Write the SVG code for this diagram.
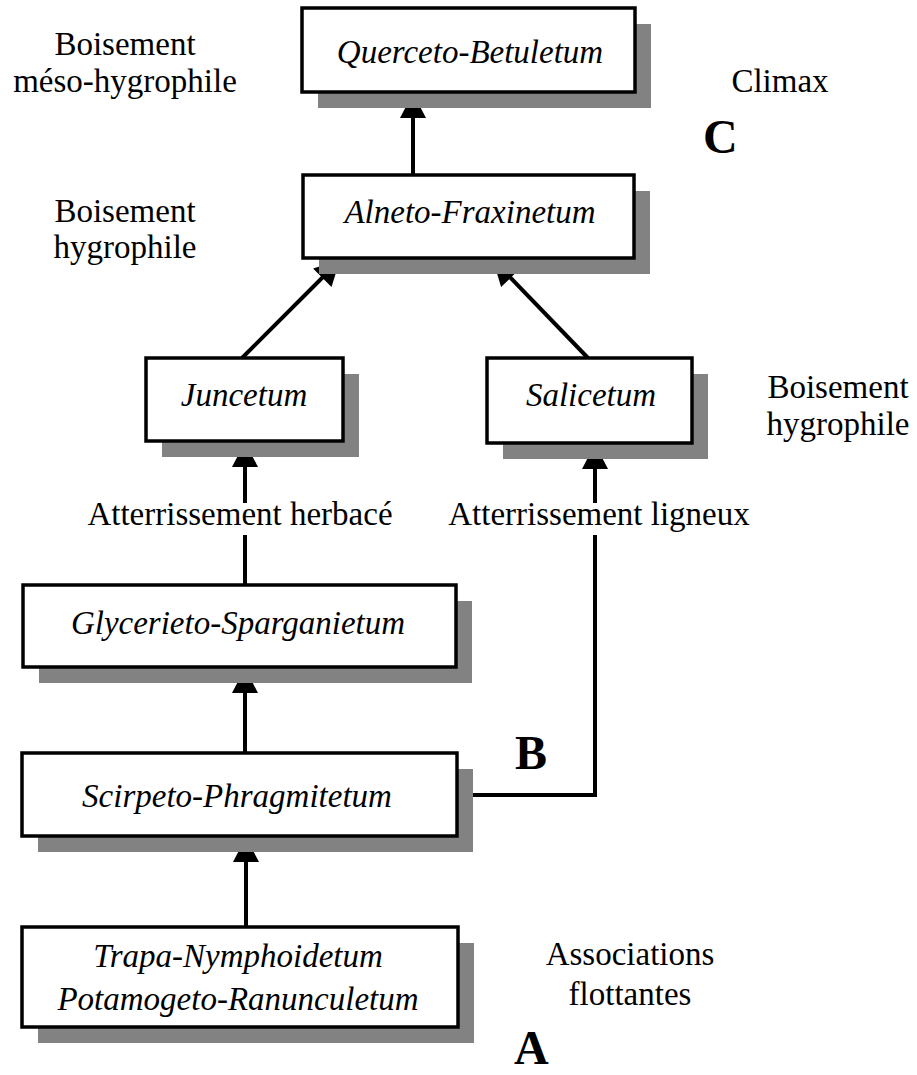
<svg xmlns="http://www.w3.org/2000/svg" width="917" height="1075" viewBox="0 0 917 1075">
<style>
.bx{fill:#fff;stroke:#000;stroke-width:3.5}
.sh{fill:#828282}
.it{font-family:"Liberation Serif",serif;font-style:italic;font-size:33px;text-anchor:middle;fill:#000}
.lb{font-family:"Liberation Serif",serif;font-size:33px;text-anchor:middle;fill:#000}
.big{font-family:"Liberation Serif",serif;font-weight:bold;font-size:48px;fill:#000}
.ln{fill:none;stroke:#000;stroke-width:4}
.hd{fill:#000;stroke:none}
</style>
<rect width="917" height="1075" fill="#fff"/>
<g id="labels">
<text class="lb" x="125" y="55">Boisement</text>
<text class="lb" x="125" y="92">méso-hygrophile</text>
<text class="lb" x="125" y="222">Boisement</text>
<text class="lb" x="125" y="258">hygrophile</text>
<text class="lb" x="780" y="92">Climax</text>
<text class="big" x="703" y="153">C</text>
<text class="lb" x="838" y="398">Boisement</text>
<text class="lb" x="838" y="435">hygrophile</text>
<text class="big" x="515" y="769">B</text>
<text class="lb" x="630" y="965">Associations</text>
<text class="lb" x="630" y="1005">flottantes</text>
<text class="big" x="514" y="1064">A</text>
</g>
<g id="connectors">
<line class="ln" x1="246" y1="927" x2="246" y2="855"/>
<polygon class="hd" points="246,837 259,862 233,862"/>
<line class="ln" x1="245" y1="753" x2="245" y2="686"/>
<polygon class="hd" points="245,668 258,693 232,693"/>
<line class="ln" x1="245" y1="585" x2="245" y2="535"/>
<line class="ln" x1="245" y1="503" x2="245" y2="460"/>
<polygon class="hd" points="245,442 258,467 232,467"/>
<polyline class="ln" points="457,795 595,795 595,535"/>
<line class="ln" x1="595" y1="503" x2="595" y2="462"/>
<polygon class="hd" points="595,444 608,469 582,469"/>
<line class="ln" x1="242" y1="358" x2="328" y2="272"/>
<polygon class="hd" points="340,260 331.5,286.9 313.1,268.5"/>
<line class="ln" x1="588" y1="358" x2="505" y2="272"/>
<polygon class="hd" points="493,260 519.7,269 501.1,287"/>
<line class="ln" x1="413" y1="175" x2="413" y2="111"/>
<polygon class="hd" points="413,93 426,118 400,118"/>
<text class="lb" x="240" y="525">Atterrissement herbacé</text>
<text class="lb" x="599" y="525">Atterrissement ligneux</text>
</g>
<g id="n1">
<rect class="sh" x="318" y="24" width="333" height="84"/>
<rect class="bx" x="302" y="8" width="333" height="84"/>
<text class="it" x="470" y="63">Querceto-Betuletum</text>
</g>
<g id="n2">
<rect class="sh" x="319" y="191" width="331" height="83"/>
<rect class="bx" x="303" y="175" width="331" height="83"/>
<text class="it" x="470" y="223">Alneto-Fraxinetum</text>
</g>
<g id="n3">
<rect class="sh" x="162" y="374" width="197" height="83"/>
<rect class="bx" x="146" y="358" width="197" height="83"/>
<text class="it" x="244" y="406">Juncetum</text>
</g>
<g id="n4">
<rect class="sh" x="503" y="374" width="205" height="85"/>
<rect class="bx" x="487" y="358" width="205" height="85"/>
<text class="it" x="591" y="406">Salicetum</text>
</g>
<g id="n5">
<rect class="sh" x="39" y="601" width="433" height="82"/>
<rect class="bx" x="23" y="585" width="433" height="82"/>
<text class="it" x="238" y="634">Glycerieto-Sparganietum</text>
</g>
<g id="n6">
<rect class="sh" x="38" y="769" width="435" height="83"/>
<rect class="bx" x="22" y="753" width="435" height="83"/>
<text class="it" x="237" y="807">Scirpeto-Phragmitetum</text>
</g>
<g id="n7">
<rect class="sh" x="38" y="943" width="436" height="100"/>
<rect class="bx" x="22" y="927" width="436" height="100"/>
<text class="it" x="238" y="967">Trapa-Nymphoidetum</text>
<text class="it" x="238" y="1010">Potamogeto-Ranunculetum</text>
</g>
</svg>
